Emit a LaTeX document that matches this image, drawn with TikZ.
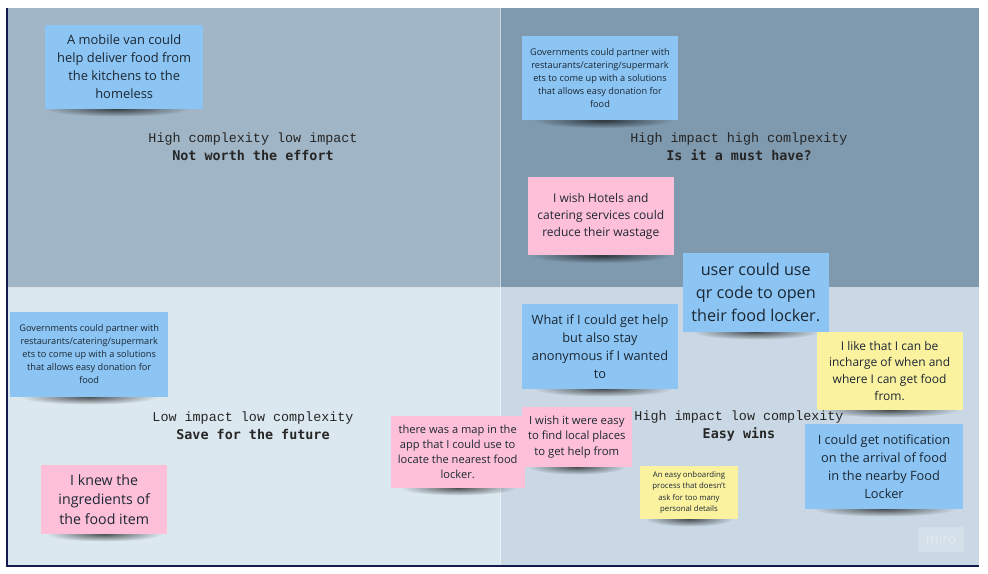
\documentclass[tikz,border=0pt]{standalone}
\usepackage{fontspec}
\setmainfont{Open Sans}
\newfontfamily\quadfont[BoldFont={DejaVu Sans Mono Bold}]{Liberation Mono}
\usetikzlibrary{calc,fadings}

\newcommand*{\xmin}{8}
\newcommand*{\xmid}{500}
\newcommand*{\xmax}{979}
\newcommand*{\ymin}{8}
\newcommand*{\ymid}{287.5}
\newcommand*{\ymax}{565}
\newcommand*{\notegap}{\\[\dimexpr 6pt-\baselineskip\relax]\mbox{}}

\definecolor{quadtl}{HTML}{A0B5C5}
\definecolor{quadtr}{HTML}{7F99AE}
\definecolor{quadbl}{HTML}{DCE8F0}
\definecolor{quadbr}{HTML}{C9D8E4}
\definecolor{framecol}{HTML}{141A4E}
\definecolor{notetext}{HTML}{1C2733}
\definecolor{noteblue}{HTML}{8CC5F3}
\definecolor{notepink}{HTML}{FDC0D8}
\definecolor{noteyellow}{HTML}{FBF2A0}

\tikzfading[name=shadowfade, inner color=transparent!35, outer color=transparent!100]

\begin{document}
\begin{tikzpicture}
[
	x=1pt,
	y=-1pt,
	note/.style={inner sep=0pt,outer sep=0pt,align=center,text=notetext,execute at end node=\notegap},
	bluenote/.style={note,fill=noteblue},
	pinknote/.style={note,fill=notepink},
	yellownote/.style={note,fill=noteyellow},
	notesize/.style n args={4}{minimum width=#1pt,minimum height=#2pt,font={\fontsize{#3}{#4}\selectfont}},
	quadlabel/.style={align=center,text=black!85,font={\quadfont\fontsize{13.4}{18}\selectfont}},
	noteshadow/.style={fill=black,path fading=shadowfade}
]

	\useasboundingbox (0,0) rectangle (988,573);

	% quadrants
	\fill[quadtl] (\xmin,\ymin) rectangle (\xmid,\ymid);
	\fill[quadtr] (\xmid,\ymin) rectangle (\xmax,\ymid);
	\fill[quadbl] (\xmin,\ymid) rectangle (\xmid,\ymax);
	\fill[quadbr] (\xmid,\ymid) rectangle (\xmax,\ymax);
	\draw[white,opacity=0.6,line width=0.7pt] (\xmid,\ymin) -- (\xmid,\ymax);
	\draw[white,opacity=0.6,line width=0.7pt] (\xmin,\ymid) -- (\xmax,\ymid);

	% frame
	\fill[framecol] (6.2,\ymin) rectangle (\xmin,567);
	\fill[framecol] (6.2,565.2) rectangle (\xmax,567);

	% quadrant labels
	\node[quadlabel] (tllabel) at (253,147) {High complexity low impact\\\textbf{Not worth the effort}};
	\node[quadlabel] (trlabel) at (739,147) {High impact high comlpexity\\\textbf{Is it a must have?}};
	\node[quadlabel] (bllabel) at (253,426) {Low impact low complexity\\\textbf{Save for the future}};
	\node[quadlabel] (brlabel) at (739,426) {High impact low complexity\\\textbf{Easy wins}};

	% shadows, under the notes
	\foreach \sx/\sy/\sw in {117/109/130, 603/120.5/127, 601/255.5/128, 756/332/115, 603/389/125, 890/410/125, 884/509/130, 689/519/80, 577/467/88, 458/488/105, 89/397/125, 104/534/105}
		\fill[noteshadow] (\sx,\sy) ellipse ({\sw*0.55} and 7.5);

	% notes
	\node[bluenote,notesize={157.5}{84.5}{12.9}{18}] (van) at (124.2,66.8) {A mobile van could\\help deliver food from\\the kitchens to the\\homeless};
	\node[bluenote,notesize={156}{84.5}{9.2}{13}] (govtop) at (600,78.2) {Governments could partner with\\restaurants/catering/supermark\\ets to come up with a solutions\\that allows easy donation for\\food};
	\node[pinknote,notesize={146}{78.5}{12}{16.8}] (hotels) at (600.8,216.2) {I wish Hotels and\\catering services could\\reduce their wastage};
	\node[bluenote,notesize={145.5}{79}{16.2}{23.2}] (qrcode) at (755.8,292.5) {user could use\\qr code to open\\their food locker.};
	\node[bluenote,notesize={156}{85}{12.8}{18}] (anonymous) at (600,346.5) {What if I could get help\\but also stay\\anonymous if I wanted\\to};
	\node[yellownote,notesize={145.8}{78.3}{12}{16.7}] (incharge) at (889.6,370.8) {I like that I can be\\incharge of when and\\where I can get food\\from.};
	\node[bluenote,notesize={158}{85}{12.8}{18}] (notify) at (884,466.5) {I could get notification\\on the arrival of food\\in the nearby Food\\Locker};
	\node[yellownote,notesize={98}{53}{7.8}{11.2}] (onboarding) at (689,492.5) {An easy onboarding\\process that doesn't\\ask for too many\\personal details};
	\node[pinknote,notesize={134}{72}{11.1}{15.2}] (map) at (457.7,452) {there was a map in the\\app that I could use to\\locate the nearest food\\locker.};
	\node[pinknote,notesize={109.5}{60.3}{11.3}{15.4}] (localplaces) at (576.8,436.9) {I wish it were easy\\to find local places\\to get help from};
	\node[bluenote,notesize={157.7}{85}{9.2}{13}] (govbottom) at (89.2,354.5) {Governments could partner with\\restaurants/catering/supermark\\ets to come up with a solutions\\that allows easy donation for\\food};
	\node[pinknote,notesize={126.5}{69}{14.2}{19.3}] (ingredients) at (104.2,499.5) {I knew the\\ingredients of\\the food item};

	% watermark
	\node[fill=white!20!quadbr,text=white!72!quadtl,inner sep=0pt,minimum width=46pt,minimum height=25pt,font={\fontsize{14}{15}\selectfont}] (miro) at (941,539.5) {miro};

\end{tikzpicture}
\end{document}
